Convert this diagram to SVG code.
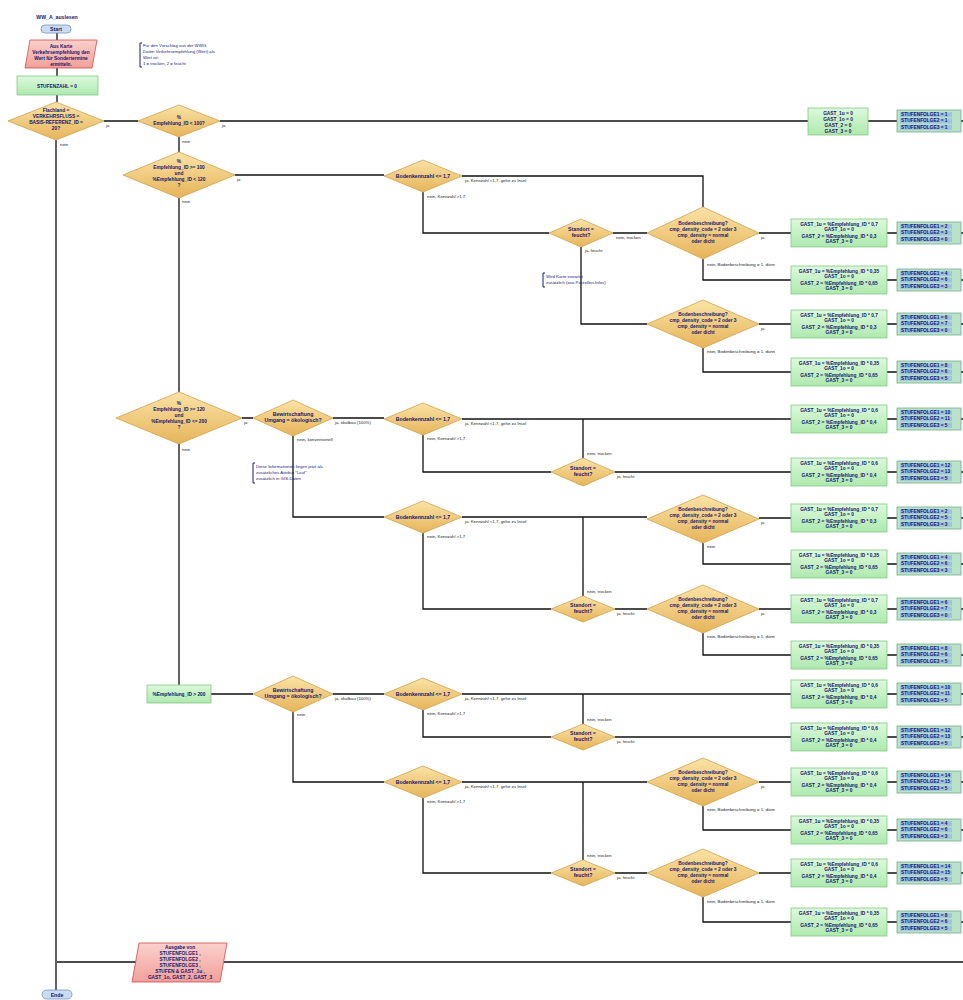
<svg xmlns="http://www.w3.org/2000/svg" xmlns:xlink="http://www.w3.org/1999/xlink" width="963" height="1000" viewBox="0 0 963 1000">
<style>
.t{font-family:"Liberation Sans",Arial,sans-serif;font-size:4.8px;fill:#15156e;text-anchor:middle;font-weight:bold}
.tb{font-family:"Liberation Sans",Arial,sans-serif;font-size:5.2px;fill:#15156e;text-anchor:middle;font-weight:bold}
.tl{font-family:"Liberation Sans",Arial,sans-serif;font-size:4.8px;fill:#15156e;font-weight:bold}
.lb{font-family:"Liberation Sans",Arial,sans-serif;font-size:4.3px;fill:#222}
.cm{font-family:"Liberation Sans",Arial,sans-serif;font-size:4.3px;fill:#1a1a7a}
.dia{fill:url(#gDia);stroke:#cfa24f;stroke-width:0.8}
.box{fill:url(#gGreen);stroke:#86c986;stroke-width:0.8}
.par{fill:url(#gPink);stroke:#d24a4a;stroke-width:0.8}
.pill{fill:#c9dcf2;stroke:#7894c4;stroke-width:0.8}
.con{fill:none;stroke:#111;stroke-width:1.3}
.br{fill:none;stroke:#1a1a7a;stroke-width:1}
</style>
<defs>
<linearGradient id="gDia" x1="0" y1="0" x2="0" y2="1"><stop offset="0" stop-color="#fae3a6"/><stop offset="1" stop-color="#e6b45a"/></linearGradient>
<linearGradient id="gGreen" x1="0" y1="0" x2="0" y2="1"><stop offset="0" stop-color="#dcf9dc"/><stop offset="1" stop-color="#aee9ae"/></linearGradient>
<linearGradient id="gPink" x1="0" y1="0" x2="0" y2="1"><stop offset="0" stop-color="#fbd0cc"/><stop offset="1" stop-color="#f2a09a"/></linearGradient>
<g id="gastbg"><rect x="0" y="0" width="96" height="28" class="box"/></g>
<g id="stufbg"><rect x="0" y="0" width="64" height="22" fill="#b9e2c8" stroke="#74ae8c" stroke-width="0.8"/><rect x="3" y="2.2" width="52" height="5" fill="#9fc3dc"/><rect x="3" y="8.5" width="52" height="5" fill="#9fc3dc"/><rect x="3" y="14.8" width="52" height="5" fill="#9fc3dc"/></g>
</defs>
<rect width="963" height="1000" fill="#fff"/>

<g id="connectors">
<path class="con" d="M57,33V40 M57,68V76 M57,95V102 M56,140V990 M104,121H138 M220,121H808 M868,121H897 M961,121H963 M179,137V152 M179,198V392 M179,444V685 M235,175H384 M462,176H703V207 M423,192V233H549 M613,233H647 M581,247V324H647 M759,233H791 M703,259V280H791 M759,324H791 M703,348V372H791 M242,418H253 M333,418H384 M462,419H791 M583,458V419 M423,435V472H551 M615,472H791 M293,436V517H384 M462,517H647 M583,596V517 M423,533V609H551 M615,609H647 M759,518H791 M703,543V564H791 M759,609H791 M703,633V655H791 M211,694H253 M333,694H384 M462,694H791 M583,724V694 M423,710V737H551 M615,737H791 M293,712V782H384 M462,782H647 M583,860V782 M423,798V873H551 M615,873H647 M759,782H791 M703,806V830H791 M759,873H791 M703,897V922H791 M963,962H224 M136,962H57"/>
<path class="con" d="M887,233H897 M961,233H963 M887,280H897 M961,280H963 M887,324H897 M961,324H963 M887,372H897 M961,372H963 M887,419H897 M961,419H963 M887,472H897 M961,472H963 M887,518H897 M961,518H963 M887,564H897 M961,564H963 M887,609H897 M961,609H963 M887,655H897 M961,655H963 M887,694H897 M961,694H963 M887,737H897 M961,737H963 M887,782H897 M961,782H963 M887,830H897 M961,830H963 M887,873H897 M961,873H963 M887,922H897 M961,922H963"/>
<g id="labels">
<text class="lb" x="106" y="127">ja</text><text class="lb" x="60" y="146">nein</text>
<text class="lb" x="222" y="127">ja</text><text class="lb" x="182" y="143">nein</text>
<text class="lb" x="237" y="181">ja</text><text class="lb" x="182" y="203">nein</text>
<text class="lb" x="244" y="424">ja</text><text class="lb" x="182" y="451">nein</text>
<text class="lb" x="465" y="182">ja, Kennzahl &lt;1,7, gehe zu Insel</text><text class="lb" x="427" y="198">nein, Kennzahl &gt;1,7</text>
<text class="lb" x="616" y="239">nein, trocken</text><text class="lb" x="585" y="252">ja, feucht</text>
<text class="lb" x="761" y="239">ja</text><text class="lb" x="707" y="266">nein, Bodenbeschreibung = 1, dünn</text>
<text class="lb" x="761" y="330">ja</text><text class="lb" x="707" y="353">nein, Bodenbeschreibung = 1, dünn</text>
<text class="lb" x="335" y="424">ja, ökolbau (100%)</text><text class="lb" x="297" y="441">nein, konventionell</text>
<text class="lb" x="465" y="425">ja, Kennzahl &lt;1,7, gehe zu Insel</text><text class="lb" x="427" y="440">nein, Kennzahl &gt;1,7</text>
<text class="lb" x="587" y="455">nein, trocken</text><text class="lb" x="617" y="478">ja, feucht</text>
<text class="lb" x="465" y="523">ja, Kennzahl &lt;1,7, gehe zu Insel</text><text class="lb" x="427" y="538">nein, Kennzahl &gt;1,7</text>
<text class="lb" x="587" y="593">nein, trocken</text><text class="lb" x="617" y="615">ja, feucht</text>
<text class="lb" x="761" y="524">ja</text><text class="lb" x="707" y="548">nein</text>
<text class="lb" x="761" y="615">ja</text><text class="lb" x="707" y="638">nein, Bodenbeschreibung = 1, dünn</text>
<text class="lb" x="335" y="700">ja, ökolbau (100%)</text><text class="lb" x="297" y="716">nein</text>
<text class="lb" x="465" y="700">ja, Kennzahl &lt;1,7, gehe zu Insel</text><text class="lb" x="427" y="715">nein, Kennzahl &gt;1,7</text>
<text class="lb" x="587" y="721">nein, trocken</text><text class="lb" x="617" y="743">ja, feucht</text>
<text class="lb" x="465" y="788">ja, Kennzahl &lt;1,7, gehe zu Insel</text><text class="lb" x="427" y="803">nein, Kennzahl &gt;1,7</text>
<text class="lb" x="587" y="857">nein, trocken</text><text class="lb" x="617" y="879">ja, feucht</text>
<text class="lb" x="761" y="788">ja</text><text class="lb" x="707" y="811">nein, Bodenbeschreibung = 1, dünn</text>
<text class="lb" x="707" y="903">nein, Bodenbeschreibung = 1, dünn</text>
</g>
</g>

<text class="tb" x="57" y="19">WW_A_auslesen</text>
<g id="start"><rect class="pill" x="41" y="25" width="30" height="8" rx="4"/><text class="tb" x="56" y="31">Start</text></g>
<g id="input1"><polygon class="par" points="30,40 97,40 92,68 25,68"/><text class="t" x="61" y="48">Aus Karte</text><text class="t" x="61" y="54">Verkehrsempfehlung den</text><text class="t" x="61" y="60">Wert für Sondertermine</text><text class="t" x="61" y="66">ermitteln.</text></g>
<g id="init"><rect class="box" x="17" y="76" width="81" height="19"/><text class="t" x="57" y="87.5">STUFENZAHL = 0</text></g>
<g id="note1"><path class="br" d="M142,43H140V67H142"/><text class="cm" x="143" y="47">Für den Vorschlag aus der WWG,</text><text class="cm" x="143" y="53">Daten Verkehrsempfehlung (Wert) als</text><text class="cm" x="143" y="59">Wert ist:</text><text class="cm" x="143" y="65">1 = trocken, 2 = feucht</text></g>

<g id="d1"><polygon class="dia" points="56,102 104,121 56,140 8,121"/><text class="t" x="56" y="112">Flachland =</text><text class="t" x="56" y="118">VERKEHRSFLUSS =</text><text class="t" x="56" y="124">BASIS-REFERENZ_ID =</text><text class="t" x="56" y="130">20?</text></g>
<g id="d2"><polygon class="dia" points="179,105 220,121 179,137 138,121"/><text class="t" x="179" y="119">%</text><text class="t" x="179" y="125">Empfehlung_ID &lt; 100?</text></g>
<g id="d3"><polygon class="dia" points="179,152 235,175 179,198 123,175"/><text class="t" x="179" y="163">%</text><text class="t" x="179" y="169">Empfehlung_ID &gt;= 100</text><text class="t" x="179" y="175">und</text><text class="t" x="179" y="181">%Empfehlung_ID &lt; 120</text><text class="t" x="179" y="187">?</text></g>
<g id="d4"><polygon class="dia" points="179,392 242,418 179,444 116,418"/><text class="t" x="179" y="405">%</text><text class="t" x="179" y="411">Empfehlung_ID &gt;= 120</text><text class="t" x="179" y="417">und</text><text class="t" x="179" y="423">%Empfehlung_ID &lt;= 200</text><text class="t" x="179" y="429">?</text></g>
<g id="b200"><rect class="box" x="147" y="685" width="64" height="18"/><text class="t" x="179" y="696">%Empfehlung_ID &gt; 200</text></g>

<g id="gast0"><rect class="box" x="808" y="108" width="60" height="27"/><text class="t" x="838" y="115">GAST_1u = 0</text><text class="t" x="838" y="121">GAST_1o = 0</text><text class="t" x="838" y="127">GAST_2 = 0</text><text class="t" x="838" y="133">GAST_3 = 0</text></g>
<g id="stuf0"><use xlink:href="#stufbg" x="897" y="110"/><text class="tl" x="901" y="116">STUFENFOLGE1 = 1</text><text class="tl" x="901" y="122.3">STUFENFOLGE2 = 1</text><text class="tl" x="901" y="128.6">STUFENFOLGE3 = 1</text></g>

<g id="boden1"><polygon class="dia" points="423,160 462,176 423,192 384,176"/><text class="tb" x="423" y="178">Bodenkennzahl &lt;= 1,7</text></g>
<g id="standort1"><polygon class="dia" points="581,219 613,233 581,247 549,233"/><text class="tb" x="581" y="231">Standort =</text><text class="tb" x="581" y="237">feucht?</text></g>
<g id="bd1"><polygon class="dia" points="703,207 759,233 703,259 647,233"/><text class="t" x="703" y="225">Bodenbeschreibung?</text><text class="t" x="703" y="231">cmp_density_code = 2 oder 3</text><text class="t" x="703" y="237">cmp_density = normal</text><text class="t" x="703" y="243">oder dicht</text></g>
<g id="bd2"><polygon class="dia" points="703,300 759,324 703,348 647,324"/><text class="t" x="703" y="316">Bodenbeschreibung?</text><text class="t" x="703" y="322">cmp_density_code = 2 oder 3</text><text class="t" x="703" y="328">cmp_density = normal</text><text class="t" x="703" y="334">oder dicht</text></g>
<g id="note2"><path class="br" d="M545,273H543V287H545"/><text class="cm" x="546" y="278">Wird Karte erwartet</text><text class="cm" x="546" y="284">zusätzlich (aus Parzellen-Infos)</text></g>

<g id="bew1"><polygon class="dia" points="293,400 333,418 293,436 253,418"/><text class="tb" x="293" y="416">Bewirtschaftung</text><text class="tb" x="293" y="422">Umgang = ökologisch?</text></g>
<g id="note3"><path class="br" d="M255,463H253V483H255"/><text class="cm" x="256" y="468">Diese Informationen liegen jetzt als</text><text class="cm" x="256" y="474">zusätzliches Attribut "Lauf"</text><text class="cm" x="256" y="480">zusätzlich in GIS-Daten</text></g>
<g id="boden2"><polygon class="dia" points="423,403 462,419 423,435 384,419"/><text class="tb" x="423" y="421">Bodenkennzahl &lt;= 1,7</text></g>
<g id="standort2"><polygon class="dia" points="583,458 615,472 583,486 551,472"/><text class="tb" x="583" y="470">Standort =</text><text class="tb" x="583" y="476">feucht?</text></g>
<g id="boden3"><polygon class="dia" points="423,501 462,517 423,533 384,517"/><text class="tb" x="423" y="519">Bodenkennzahl &lt;= 1,7</text></g>
<g id="standort3"><polygon class="dia" points="583,596 615,609 583,622 551,609"/><text class="tb" x="583" y="607">Standort =</text><text class="tb" x="583" y="613">feucht?</text></g>
<g id="bd3"><polygon class="dia" points="703,495 759,519 703,543 647,519"/><text class="t" x="703" y="511">Bodenbeschreibung?</text><text class="t" x="703" y="517">cmp_density_code = 2 oder 3</text><text class="t" x="703" y="523">cmp_density = normal</text><text class="t" x="703" y="529">oder dicht</text></g>
<g id="bd4"><polygon class="dia" points="703,585 759,609 703,633 647,609"/><text class="t" x="703" y="601">Bodenbeschreibung?</text><text class="t" x="703" y="607">cmp_density_code = 2 oder 3</text><text class="t" x="703" y="613">cmp_density = normal</text><text class="t" x="703" y="619">oder dicht</text></g>

<g id="bew2"><polygon class="dia" points="293,676 333,694 293,712 253,694"/><text class="tb" x="293" y="692">Bewirtschaftung</text><text class="tb" x="293" y="698">Umgang = ökologisch?</text></g>
<g id="boden4"><polygon class="dia" points="423,678 462,694 423,710 384,694"/><text class="tb" x="423" y="696">Bodenkennzahl &lt;= 1,7</text></g>
<g id="standort4"><polygon class="dia" points="583,724 615,737 583,750 551,737"/><text class="tb" x="583" y="735">Standort =</text><text class="tb" x="583" y="741">feucht?</text></g>
<g id="boden5"><polygon class="dia" points="423,766 462,782 423,798 384,782"/><text class="tb" x="423" y="784">Bodenkennzahl &lt;= 1,7</text></g>
<g id="standort5"><polygon class="dia" points="583,860 615,873 583,886 551,873"/><text class="tb" x="583" y="871">Standort =</text><text class="tb" x="583" y="877">feucht?</text></g>
<g id="bd5"><polygon class="dia" points="703,758 759,782 703,806 647,782"/><text class="t" x="703" y="774">Bodenbeschreibung?</text><text class="t" x="703" y="780">cmp_density_code = 2 oder 3</text><text class="t" x="703" y="786">cmp_density = normal</text><text class="t" x="703" y="792">oder dicht</text></g>
<g id="bd6"><polygon class="dia" points="703,849 759,873 703,897 647,873"/><text class="t" x="703" y="865">Bodenbeschreibung?</text><text class="t" x="703" y="871">cmp_density_code = 2 oder 3</text><text class="t" x="703" y="877">cmp_density = normal</text><text class="t" x="703" y="883">oder dicht</text></g>

<g id="gast1"><use xlink:href="#gastbg" x="791" y="219"/><text class="t" x="839" y="225.5">GAST_1u = %Empfehlung_ID * 0,7</text><text class="t" x="839" y="231">GAST_1o = 0</text><text class="t" x="839" y="237.5">GAST_2 = %Empfehlung_ID * 0,3</text><text class="t" x="839" y="243">GAST_3 = 0</text></g>
<g id="stuf1"><use xlink:href="#stufbg" x="897" y="222"/><text class="tl" x="901" y="228">STUFENFOLGE1 = 2</text><text class="tl" x="901" y="234.3">STUFENFOLGE2 = 3</text><text class="tl" x="901" y="240.6">STUFENFOLGE3 = 0</text></g>
<g id="gast2"><use xlink:href="#gastbg" x="791" y="266"/><text class="t" x="839" y="272.5">GAST_1u = %Empfehlung_ID * 0,35</text><text class="t" x="839" y="278">GAST_1o = 0</text><text class="t" x="839" y="284.5">GAST_2 = %Empfehlung_ID * 0,65</text><text class="t" x="839" y="290">GAST_3 = 0</text></g>
<g id="stuf2"><use xlink:href="#stufbg" x="897" y="269"/><text class="tl" x="901" y="275">STUFENFOLGE1 = 4</text><text class="tl" x="901" y="281.3">STUFENFOLGE2 = 6</text><text class="tl" x="901" y="287.6">STUFENFOLGE3 = 3</text></g>
<g id="gast3"><use xlink:href="#gastbg" x="791" y="310"/><text class="t" x="839" y="316.5">GAST_1u = %Empfehlung_ID * 0,7</text><text class="t" x="839" y="322">GAST_1o = 0</text><text class="t" x="839" y="328.5">GAST_2 = %Empfehlung_ID * 0,3</text><text class="t" x="839" y="334">GAST_3 = 0</text></g>
<g id="stuf3"><use xlink:href="#stufbg" x="897" y="313"/><text class="tl" x="901" y="319">STUFENFOLGE1 = 6</text><text class="tl" x="901" y="325.3">STUFENFOLGE2 = 7</text><text class="tl" x="901" y="331.6">STUFENFOLGE3 = 0</text></g>
<g id="gast4"><use xlink:href="#gastbg" x="791" y="358"/><text class="t" x="839" y="364.5">GAST_1u = %Empfehlung_ID * 0,35</text><text class="t" x="839" y="370">GAST_1o = 0</text><text class="t" x="839" y="376.5">GAST_2 = %Empfehlung_ID * 0,65</text><text class="t" x="839" y="382">GAST_3 = 0</text></g>
<g id="stuf4"><use xlink:href="#stufbg" x="897" y="361"/><text class="tl" x="901" y="367">STUFENFOLGE1 = 8</text><text class="tl" x="901" y="373.3">STUFENFOLGE2 = 6</text><text class="tl" x="901" y="379.6">STUFENFOLGE3 = 5</text></g>
<g id="gast5"><use xlink:href="#gastbg" x="791" y="405"/><text class="t" x="839" y="411.5">GAST_1u = %Empfehlung_ID * 0,6</text><text class="t" x="839" y="417">GAST_1o = 0</text><text class="t" x="839" y="423.5">GAST_2 = %Empfehlung_ID * 0,4</text><text class="t" x="839" y="429">GAST_3 = 0</text></g>
<g id="stuf5"><use xlink:href="#stufbg" x="897" y="408"/><text class="tl" x="901" y="414">STUFENFOLGE1 = 10</text><text class="tl" x="901" y="420.3">STUFENFOLGE2 = 11</text><text class="tl" x="901" y="426.6">STUFENFOLGE3 = 5</text></g>
<g id="gast6"><use xlink:href="#gastbg" x="791" y="458"/><text class="t" x="839" y="464.5">GAST_1u = %Empfehlung_ID * 0,6</text><text class="t" x="839" y="470">GAST_1o = 0</text><text class="t" x="839" y="476.5">GAST_2 = %Empfehlung_ID * 0,4</text><text class="t" x="839" y="482">GAST_3 = 0</text></g>
<g id="stuf6"><use xlink:href="#stufbg" x="897" y="461"/><text class="tl" x="901" y="467">STUFENFOLGE1 = 12</text><text class="tl" x="901" y="473.3">STUFENFOLGE2 = 13</text><text class="tl" x="901" y="479.6">STUFENFOLGE3 = 5</text></g>
<g id="gast7"><use xlink:href="#gastbg" x="791" y="504"/><text class="t" x="839" y="510.5">GAST_1u = %Empfehlung_ID * 0,7</text><text class="t" x="839" y="516">GAST_1o = 0</text><text class="t" x="839" y="522.5">GAST_2 = %Empfehlung_ID * 0,3</text><text class="t" x="839" y="528">GAST_3 = 0</text></g>
<g id="stuf7"><use xlink:href="#stufbg" x="897" y="507"/><text class="tl" x="901" y="513">STUFENFOLGE1 = 2</text><text class="tl" x="901" y="519.3">STUFENFOLGE2 = 5</text><text class="tl" x="901" y="525.6">STUFENFOLGE3 = 3</text></g>
<g id="gast8"><use xlink:href="#gastbg" x="791" y="550"/><text class="t" x="839" y="556.5">GAST_1u = %Empfehlung_ID * 0,35</text><text class="t" x="839" y="562">GAST_1o = 0</text><text class="t" x="839" y="568.5">GAST_2 = %Empfehlung_ID * 0,65</text><text class="t" x="839" y="574">GAST_3 = 0</text></g>
<g id="stuf8"><use xlink:href="#stufbg" x="897" y="553"/><text class="tl" x="901" y="559">STUFENFOLGE1 = 4</text><text class="tl" x="901" y="565.3">STUFENFOLGE2 = 6</text><text class="tl" x="901" y="571.6">STUFENFOLGE3 = 3</text></g>
<g id="gast9"><use xlink:href="#gastbg" x="791" y="595"/><text class="t" x="839" y="601.5">GAST_1u = %Empfehlung_ID * 0,7</text><text class="t" x="839" y="607">GAST_1o = 0</text><text class="t" x="839" y="613.5">GAST_2 = %Empfehlung_ID * 0,3</text><text class="t" x="839" y="619">GAST_3 = 0</text></g>
<g id="stuf9"><use xlink:href="#stufbg" x="897" y="598"/><text class="tl" x="901" y="604">STUFENFOLGE1 = 6</text><text class="tl" x="901" y="610.3">STUFENFOLGE2 = 7</text><text class="tl" x="901" y="616.6">STUFENFOLGE3 = 0</text></g>
<g id="gast10"><use xlink:href="#gastbg" x="791" y="641"/><text class="t" x="839" y="647.5">GAST_1u = %Empfehlung_ID * 0,35</text><text class="t" x="839" y="653">GAST_1o = 0</text><text class="t" x="839" y="659.5">GAST_2 = %Empfehlung_ID * 0,65</text><text class="t" x="839" y="665">GAST_3 = 0</text></g>
<g id="stuf10"><use xlink:href="#stufbg" x="897" y="644"/><text class="tl" x="901" y="650">STUFENFOLGE1 = 8</text><text class="tl" x="901" y="656.3">STUFENFOLGE2 = 6</text><text class="tl" x="901" y="662.6">STUFENFOLGE3 = 5</text></g>
<g id="gast11"><use xlink:href="#gastbg" x="791" y="680"/><text class="t" x="839" y="686.5">GAST_1u = %Empfehlung_ID * 0,6</text><text class="t" x="839" y="692">GAST_1o = 0</text><text class="t" x="839" y="698.5">GAST_2 = %Empfehlung_ID * 0,4</text><text class="t" x="839" y="704">GAST_3 = 0</text></g>
<g id="stuf11"><use xlink:href="#stufbg" x="897" y="683"/><text class="tl" x="901" y="689">STUFENFOLGE1 = 10</text><text class="tl" x="901" y="695.3">STUFENFOLGE2 = 11</text><text class="tl" x="901" y="701.6">STUFENFOLGE3 = 5</text></g>
<g id="gast12"><use xlink:href="#gastbg" x="791" y="723"/><text class="t" x="839" y="729.5">GAST_1u = %Empfehlung_ID * 0,6</text><text class="t" x="839" y="735">GAST_1o = 0</text><text class="t" x="839" y="741.5">GAST_2 = %Empfehlung_ID * 0,4</text><text class="t" x="839" y="747">GAST_3 = 0</text></g>
<g id="stuf12"><use xlink:href="#stufbg" x="897" y="726"/><text class="tl" x="901" y="732">STUFENFOLGE1 = 12</text><text class="tl" x="901" y="738.3">STUFENFOLGE2 = 13</text><text class="tl" x="901" y="744.6">STUFENFOLGE3 = 5</text></g>
<g id="gast13"><use xlink:href="#gastbg" x="791" y="768"/><text class="t" x="839" y="774.5">GAST_1u = %Empfehlung_ID * 0,6</text><text class="t" x="839" y="780">GAST_1o = 0</text><text class="t" x="839" y="786.5">GAST_2 = %Empfehlung_ID * 0,4</text><text class="t" x="839" y="792">GAST_3 = 0</text></g>
<g id="stuf13"><use xlink:href="#stufbg" x="897" y="771"/><text class="tl" x="901" y="777">STUFENFOLGE1 = 14</text><text class="tl" x="901" y="783.3">STUFENFOLGE2 = 15</text><text class="tl" x="901" y="789.6">STUFENFOLGE3 = 5</text></g>
<g id="gast14"><use xlink:href="#gastbg" x="791" y="816"/><text class="t" x="839" y="822.5">GAST_1u = %Empfehlung_ID * 0,35</text><text class="t" x="839" y="828">GAST_1o = 0</text><text class="t" x="839" y="834.5">GAST_2 = %Empfehlung_ID * 0,65</text><text class="t" x="839" y="840">GAST_3 = 0</text></g>
<g id="stuf14"><use xlink:href="#stufbg" x="897" y="819"/><text class="tl" x="901" y="825">STUFENFOLGE1 = 4</text><text class="tl" x="901" y="831.3">STUFENFOLGE2 = 6</text><text class="tl" x="901" y="837.6">STUFENFOLGE3 = 3</text></g>
<g id="gast15"><use xlink:href="#gastbg" x="791" y="859"/><text class="t" x="839" y="865.5">GAST_1u = %Empfehlung_ID * 0,6</text><text class="t" x="839" y="871">GAST_1o = 0</text><text class="t" x="839" y="877.5">GAST_2 = %Empfehlung_ID * 0,4</text><text class="t" x="839" y="883">GAST_3 = 0</text></g>
<g id="stuf15"><use xlink:href="#stufbg" x="897" y="862"/><text class="tl" x="901" y="868">STUFENFOLGE1 = 14</text><text class="tl" x="901" y="874.3">STUFENFOLGE2 = 15</text><text class="tl" x="901" y="880.6">STUFENFOLGE3 = 5</text></g>
<g id="gast16"><use xlink:href="#gastbg" x="791" y="908"/><text class="t" x="839" y="914.5">GAST_1u = %Empfehlung_ID * 0,35</text><text class="t" x="839" y="920">GAST_1o = 0</text><text class="t" x="839" y="926.5">GAST_2 = %Empfehlung_ID * 0,65</text><text class="t" x="839" y="932">GAST_3 = 0</text></g>
<g id="stuf16"><use xlink:href="#stufbg" x="897" y="911"/><text class="tl" x="901" y="917">STUFENFOLGE1 = 8</text><text class="tl" x="901" y="923.3">STUFENFOLGE2 = 6</text><text class="tl" x="901" y="929.6">STUFENFOLGE3 = 5</text></g>

<g id="output"><polygon class="par" points="139,943 227,943 220,982 132,982"/><text class="t" x="180" y="949">Ausgabe von</text><text class="t" x="180" y="955">STUFENFOLGE1 ,</text><text class="t" x="180" y="961">STUFENFOLGE2 ,</text><text class="t" x="180" y="967">STUFENFOLGE3 ,</text><text class="t" x="180" y="973">STUFEN &amp; GAST_1u ,</text><text class="t" x="180" y="979">GAST_1o, GAST_2, GAST_3</text></g>
<g id="ende"><rect class="pill" x="42" y="990" width="30" height="9" rx="4.5"/><text class="tb" x="57" y="996.5">Ende</text></g>
</svg>
